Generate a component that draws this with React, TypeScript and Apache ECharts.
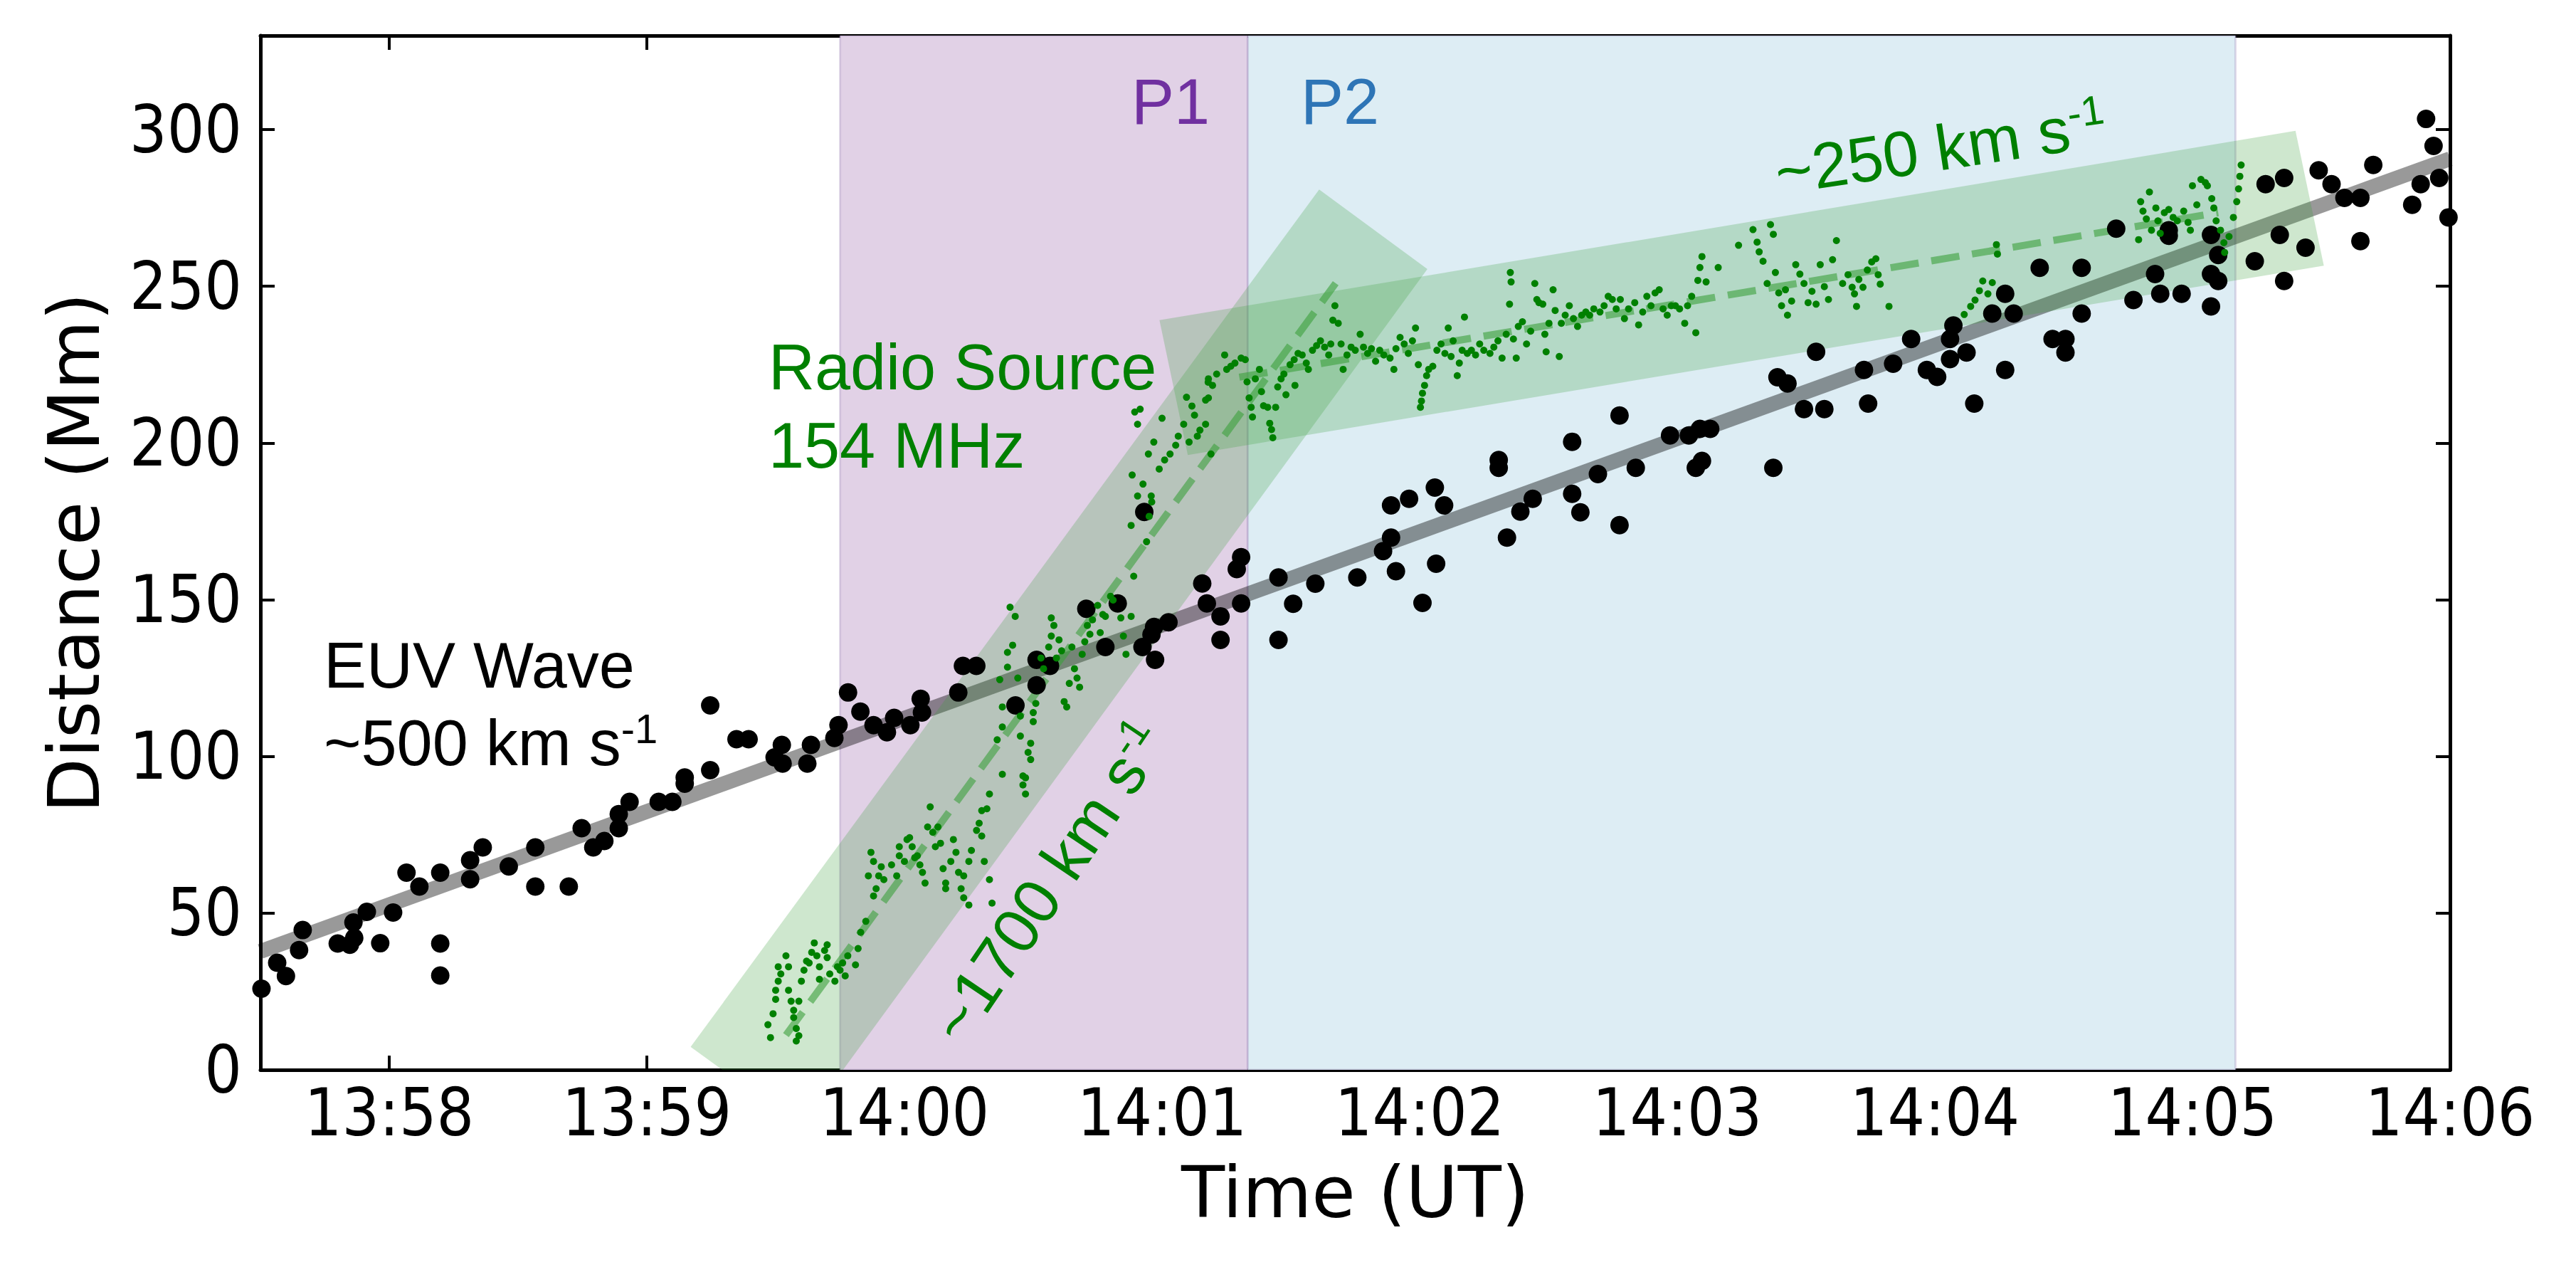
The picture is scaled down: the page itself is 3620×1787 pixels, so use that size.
import React, { useEffect, useRef } from "react";
import * as echarts from "echarts";

// x values are minutes after 13:00 UT, y values are distances in Mm
const X_MIN = 57.5;
const X_MAX = 66;
const Y_MIN = 0;
const Y_MAX = 330;
const xTickValues = [58, 59, 60, 61, 62, 63, 64, 65, 66];
const xTickLabels = ["13:58", "13:59", "14:00", "14:01", "14:02", "14:03", "14:04", "14:05", "14:06"];
const yTickValues = [0, 50, 100, 150, 200, 250, 300];

// shaded periods [start, end]
const periodP1 = [59.75, 61.333];
const periodP2 = [61.333, 65.167];

// EUV wave front measurements
const euvWave = [
  [57.504, 25.9], [57.565, 34.2], [57.599, 29.9], [57.65, 38.2], [57.664, 44.6], [57.8, 40.3], [57.847, 39.9], [57.864, 42.1],
  [57.861, 47.0], [57.913, 50.4], [57.965, 40.4], [58.015, 50.2], [58.067, 62.9], [58.117, 58.5], [58.198, 62.9], [58.198, 40.3],
  [58.198, 30.1], [58.314, 66.9], [58.314, 60.8], [58.363, 71.0], [58.464, 64.9], [58.567, 71.0], [58.567, 58.5], [58.697, 58.5],
  [58.747, 77.1], [58.792, 71.0], [58.835, 73.0], [58.891, 77.1], [58.891, 81.6], [58.933, 85.5], [59.046, 85.5], [59.099, 85.5],
  [59.147, 91.3], [59.147, 93.3], [59.246, 95.6], [59.246, 116.3], [59.348, 105.5], [59.395, 105.5], [59.496, 99.7], [59.524, 103.7],
  [59.527, 97.7], [59.623, 97.7], [59.637, 103.7], [59.728, 105.9], [59.744, 110.0], [59.781, 120.4], [59.829, 114.3], [59.88, 110.0],
  [59.932, 107.7], [59.96, 112.3], [60.023, 110.0], [60.063, 118.4], [60.068, 114.0], [60.209, 120.4], [60.227, 128.9], [60.279, 128.9],
  [60.431, 116.3], [60.513, 130.8], [60.513, 122.7], [60.565, 128.9], [60.706, 147.1], [60.78, 134.9], [60.828, 148.8], [60.931, 178.0],
  [60.924, 134.9], [60.959, 138.9], [60.969, 141.3], [60.973, 130.8], [61.025, 142.8], [61.156, 155.2], [61.174, 148.8], [61.227, 144.7],
  [61.227, 137.2], [61.29, 159.8], [61.307, 163.6], [61.307, 148.8], [61.452, 157.1], [61.452, 137.2], [61.509, 148.7], [61.595, 155.1],
  [61.758, 157.1], [61.858, 165.5], [61.889, 169.8], [61.889, 180.1], [61.908, 159.1], [61.959, 182.2], [62.011, 149.0], [62.059, 185.8],
  [62.064, 161.5], [62.095, 180.1], [62.307, 194.6], [62.307, 192.1], [62.339, 169.8], [62.391, 178.1], [62.439, 182.2], [62.592, 200.4],
  [62.592, 183.8], [62.624, 177.9], [62.692, 190.1], [62.776, 208.8], [62.776, 173.8], [62.839, 192.1], [62.972, 202.4], [63.045, 202.4],
  [63.088, 204.5], [63.128, 204.5], [63.072, 192.1], [63.096, 194.3], [63.373, 192.1], [63.389, 221.0], [63.428, 219.0], [63.492, 210.8],
  [63.539, 229.1], [63.571, 210.8], [63.725, 223.3], [63.741, 212.6], [63.838, 225.3], [63.908, 233.2], [63.969, 223.3], [64.009, 221.1],
  [64.059, 233.2], [64.059, 226.8], [64.072, 237.5], [64.123, 228.9], [64.153, 212.6], [64.223, 241.3], [64.273, 247.6], [64.273, 223.3],
  [64.306, 241.3], [64.407, 255.9], [64.457, 233.2], [64.507, 233.2], [64.507, 228.9], [64.57, 255.9], [64.57, 241.3], [64.704, 268.4],
  [64.771, 245.6], [64.855, 253.9], [64.875, 247.6], [64.908, 267.9], [64.908, 266.1], [64.958, 247.6], [65.072, 266.4], [65.072, 253.9],
  [65.072, 243.6], [65.1, 260.0], [65.1, 251.7], [65.242, 258.0], [65.284, 282.6], [65.339, 266.4], [65.356, 284.6], [65.356, 251.7],
  [65.439, 262.3], [65.49, 287.0], [65.54, 282.6], [65.59, 278.2], [65.652, 278.2], [65.652, 264.4], [65.702, 288.7], [65.853, 276.0],
  [65.886, 282.6], [65.907, 303.4], [65.936, 294.8], [65.958, 284.6], [65.994, 272.0],
];

// radio source 154 MHz positions, early fast phase
const radioEarly = [
  [59.47, 14.4], [59.48, 10.3], [59.49, 17.9], [59.5, 22.5], [59.5, 25.4], [59.51, 28.3], [59.51, 32.9], [59.52, 30.6],
  [59.54, 36.4], [59.55, 32.9], [59.55, 25.4], [59.56, 21.9], [59.57, 19.0], [59.57, 16.7], [59.58, 13.2], [59.58, 9.2],
  [59.59, 10.9], [59.59, 21.9], [59.6, 28.3], [59.61, 31.8], [59.62, 34.7], [59.63, 34.1], [59.64, 37.5], [59.65, 40.5],
  [59.66, 36.4], [59.67, 28.9], [59.67, 32.9], [59.69, 38.1], [59.7, 39.9], [59.7, 35.8], [59.71, 30.6], [59.73, 28.3],
  [59.74, 32.9], [59.75, 31.8], [59.76, 34.1], [59.77, 30.0], [59.78, 36.4], [59.81, 33.5], [59.82, 38.7], [59.83, 43.9],
  [59.85, 47.4],
  [59.86, 61.9], [59.87, 69.4], [59.88, 66.5], [59.88, 55.5], [59.89, 57.8], [59.9, 61.9], [59.91, 64.8], [59.92, 60.7],
  [59.95, 65.4], [59.97, 61.9], [59.98, 68.3], [59.98, 71.2], [60.0, 66.5], [60.01, 73.5], [60.02, 74.1], [60.03, 71.2],
  [60.04, 67.7], [60.05, 68.3], [60.06, 65.4], [60.07, 63.0], [60.08, 59.6], [60.09, 77.5], [60.1, 83.9], [60.11, 75.8],
  [60.12, 71.2], [60.13, 77.5], [60.14, 72.3], [60.15, 64.2], [60.16, 59.6], [60.16, 57.8], [60.18, 66.5], [60.19, 73.5],
  [60.2, 69.4], [60.21, 63.0], [60.22, 57.8], [60.23, 61.9], [60.23, 54.9], [60.25, 52.6], [60.25, 66.5], [60.26, 70.0],
  [60.28, 76.4], [60.29, 78.7], [60.3, 82.7], [60.3, 74.6], [60.31, 66.5], [60.32, 83.3], [60.33, 60.7], [60.34, 53.2],
  [60.33, 88.0],
];

// radio source, steep rise
const radioRise = [
  [60.37, 124.5], [60.38, 115.8], [60.36, 105.3], [60.38, 94.3], [60.38, 109.4], [60.4, 128.5], [60.4, 133.2], [60.41, 147.6],
  [60.42, 135.5], [60.43, 144.7], [60.44, 125.0], [60.45, 112.9], [60.45, 106.5], [60.46, 93.8], [60.46, 90.9], [60.47, 88.0],
  [60.47, 93.2], [60.48, 101.3], [60.49, 99.0], [60.49, 104.2], [60.5, 111.1], [60.5, 114.0], [60.51, 116.9], [60.53, 131.4],
  [60.54, 128.0], [60.56, 134.9], [60.57, 138.4], [60.57, 144.2], [60.58, 141.8], [60.59, 131.4], [60.6, 137.2], [60.61, 133.7],
  [60.62, 117.5], [60.63, 115.8], [60.64, 123.3], [60.65, 134.9], [60.66, 128.0], [60.67, 125.0], [60.68, 122.1], [60.69, 132.6],
  [60.7, 136.6], [60.71, 141.8], [60.72, 139.0], [60.73, 143.6], [60.75, 148.2], [60.76, 139.5], [60.77, 145.3], [60.78, 144.7],
  [60.8, 151.1], [60.81, 149.9], [60.84, 144.2], [60.85, 138.4], [60.86, 132.6], [60.88, 144.7], [60.88, 173.7], [60.89, 157.5],
  [60.94, 168.5], [60.95, 176.6], [60.96, 181.2],
  [60.894, 209.9], [60.905, 206.0], [60.915, 210.8], [60.884, 189.8], [60.905, 183.1], [60.926, 186.9], [60.958, 183.1],
  [60.947, 196.5], [60.968, 200.3], [60.989, 191.7], [61.0, 207.9], [61.01, 194.6], [61.031, 196.5], [61.053, 199.3],
  [61.063, 202.2], [61.084, 206.0], [61.095, 214.6], [61.105, 200.3], [61.116, 211.8], [61.126, 208.9], [61.137, 202.2],
  [61.147, 204.1], [61.169, 213.7], [61.179, 219.4], [61.19, 196.5], [61.169, 206.0],
  [61.18, 220.5], [61.18, 214.4], [61.196, 218.4], [61.212, 222.0], [61.243, 228.1], [61.251, 223.5], [61.267, 224.5],
  [61.283, 225.5], [61.307, 227.1], [61.323, 226.6], [61.33, 219.5], [61.338, 214.4], [61.346, 211.4], [61.351, 208.3],
  [61.362, 220.5], [61.378, 223.5], [61.386, 216.4], [61.394, 211.9], [61.41, 211.4], [61.418, 206.3], [61.425, 204.3],
  [61.43, 201.7], [61.441, 211.4], [61.449, 217.9], [61.462, 220.5], [61.473, 222.0], [61.481, 215.4], [61.497, 225.0],
  [61.513, 226.6], [61.516, 218.4], [61.528, 228.6], [61.544, 228.1], [61.56, 225.5], [61.568, 223.5],
];

// radio source, slow drift phase
const radioLate = [
  [61.584, 229.6], [61.6, 231.1], [61.615, 232.6], [61.631, 230.6], [61.647, 228.1], [61.655, 231.6], [61.663, 239.2], [61.671, 243.8],
  [61.684, 238.2], [61.695, 231.6], [61.703, 223.5], [61.718, 228.1], [61.734, 230.6], [61.75, 229.6], [61.769, 234.7], [61.782, 230.6],
  [61.798, 228.6], [61.813, 230.1], [61.829, 226.1], [61.845, 229.6], [61.861, 228.1], [61.885, 227.1], [61.9, 223.5], [61.908, 230.1],
  [61.924, 233.7], [61.94, 231.6], [61.956, 228.6], [61.972, 232.6], [61.984, 236.7], [61.995, 225.0], [62.003, 211.4], [62.007, 213.4],
  [62.011, 215.9], [62.019, 218.4], [62.027, 221.5], [62.035, 223.5], [62.051, 224.5], [62.067, 229.6], [62.083, 231.6], [62.098, 228.6],
  [62.111, 236.7], [62.122, 227.6], [62.13, 232.6], [62.146, 221.5], [62.154, 225.5], [62.165, 229.6], [62.174, 240.2], [62.185, 228.6],
  [62.201, 229.6], [62.217, 228.1], [62.233, 231.6], [62.249, 229.6], [62.273, 228.6], [62.288, 230.6], [62.304, 232.6], [62.32, 227.1],
  [62.336, 234.7], [62.352, 254.4], [62.355, 251.4], [62.349, 244.3], [62.364, 233.2], [62.375, 227.1], [62.383, 237.2], [62.399, 238.7],
  [62.415, 231.6], [62.431, 235.7], [62.447, 250.9], [62.455, 245.8], [62.463, 244.8], [62.478, 244.3], [62.486, 234.7], [62.491, 229.1],
  [62.502, 238.2], [62.518, 248.9], [62.526, 242.3], [62.542, 227.6], [62.55, 238.2], [62.565, 240.8], [62.581, 243.8], [62.597, 239.7],
  [62.613, 237.2], [62.629, 240.8], [62.645, 241.8], [62.66, 240.8], [62.676, 242.8], [62.7, 241.8], [62.716, 243.8], [62.732, 246.8],
  [62.748, 245.8], [62.763, 242.8], [62.779, 245.8], [62.795, 239.7], [62.811, 242.8], [62.835, 244.8], [62.85, 237.7], [62.866, 241.8],
  [62.882, 246.8], [62.898, 243.8], [62.914, 247.9], [62.93, 248.9], [62.945, 242.8], [62.961, 240.8], [62.977, 243.8], [62.993, 243.8],
  [63.009, 242.8], [63.029, 238.2], [63.04, 243.8], [63.056, 246.8], [63.072, 235.2], [63.08, 251.9], [63.088, 256.0], [63.096, 259.5],
  [63.112, 251.4], [63.159, 256.0], [63.238, 263.1], [63.294, 268.1], [63.31, 264.1], [63.318, 261.0], [63.333, 258.0], [63.349, 250.9],
  [63.362, 269.7], [63.373, 266.6], [63.381, 254.4], [63.394, 247.9], [63.405, 243.8], [63.42, 248.9], [63.428, 240.8], [63.444, 245.3],
  [63.46, 256.9], [63.476, 253.9], [63.492, 250.9], [63.508, 244.8], [63.523, 248.4], [63.539, 244.3], [63.555, 256.9], [63.571, 249.9],
  [63.587, 245.8], [63.603, 258.5], [63.618, 264.6], [63.642, 250.9], [63.663, 253.7], [63.679, 249.7], [63.688, 247.6], [63.696, 243.6],
  [63.705, 252.2], [63.721, 249.7], [63.738, 255.2], [63.755, 257.8], [63.771, 258.8], [63.78, 253.7], [63.788, 250.7], [63.822, 243.6],
  [64.114, 241.0], [64.139, 243.6], [64.156, 245.6], [64.173, 248.6], [64.186, 251.7], [64.206, 247.6], [64.223, 251.2], [64.239, 263.3],
  [64.243, 260.3], [64.791, 264.9], [64.799, 277.0], [64.808, 274.0], [64.821, 271.5], [64.833, 280.1], [64.841, 267.9], [64.858, 275.0],
  [64.866, 270.9], [64.875, 266.9], [64.891, 273.5], [64.908, 274.5], [64.925, 272.0], [64.941, 270.9], [64.966, 274.0], [64.983, 270.4],
  [64.992, 267.9], [65.0, 282.1], [65.017, 276.0], [65.033, 284.1], [65.05, 283.1], [65.058, 282.1], [65.075, 278.0], [65.083, 275.0],
  [65.092, 270.9], [65.109, 267.9], [65.122, 263.9], [65.125, 260.8], [65.142, 265.9], [65.159, 272.0], [65.172, 277.0], [65.179, 281.1],
  [65.184, 285.1], [65.189, 288.7],
];

// linear fits
const euvFit = [[57.5, 37.8], [66, 290.7]];
const radioFastFit = [[59.54, 11.1], [61.674, 251.0]];
const radioSlowFit = [[61.3, 221.0], [65.1, 273.5]];

// uncertainty bands (corners)
const bandFast = [[59.17, 7.3], [61.61, 280.9], [62.03, 255.5], [59.6, -18.2]];
const bandSlow = [[60.99, 239.2], [65.4, 299.6], [65.51, 256.6], [61.1, 196.2]];

const TICK_FONT = "'DejaVu Sans Condensed', 'DejaVu Sans', sans-serif";
const NAME_FONT = "'DejaVu Sans', sans-serif";
const ANNO_FONT = "'Liberation Sans', Arial, sans-serif";

function xLabel(v: number) {
  const i = xTickValues.findIndex((t) => Math.abs(t - v) < 1e-6);
  return i >= 0 ? xTickLabels[i] : "";
}
function yLabel(v: number) {
  return yTickValues.some((t) => Math.abs(t - v) < 1e-6) ? String(v) : "";
}

export default function App() {
  const ref = useRef<HTMLDivElement>(null);
  useEffect(() => {
    document.body.style.margin = "0";
    if (!ref.current) return;
    const chart = echarts.init(ref.current, undefined, { renderer: "svg" });
    const axisLine = { show: true, onZero: false, lineStyle: { color: "#000", width: 5 } };
    const axisTick = { show: true, inside: true, length: 20, lineStyle: { color: "#000", width: 4 } };
    const bands = [bandFast, bandSlow];
    const periods = [periodP1, periodP2];
    const periodColors = ["#e1d1e6", "#ddedf4"];
    const sup = { fontSize: 58, lineHeight: 58, verticalAlign: "top", fontFamily: ANNO_FONT };

    chart.setOption({
      animation: false,
      backgroundColor: "#fff",
      grid: { left: 366, right: 177, top: 50, bottom: 284 },
      xAxis: [
        {
          type: "value", position: "bottom", min: X_MIN, max: X_MAX, splitNumber: 8,
          axisLine, axisTick, splitLine: { show: false },
          axisLabel: { formatter: xLabel, fontSize: 92, fontFamily: TICK_FONT, color: "#000", margin: 14 },
          name: "Time (UT)", nameLocation: "middle", nameGap: 122,
          nameTextStyle: { fontSize: 100, fontFamily: NAME_FONT, color: "#000" },
        },
        {
          type: "value", position: "top", min: X_MIN, max: X_MAX, splitNumber: 8,
          axisLine, axisTick, splitLine: { show: false }, axisLabel: { show: false },
        },
      ],
      yAxis: [
        {
          type: "value", position: "left", min: Y_MIN, max: Y_MAX, interval: 50,
          axisLine, axisTick, splitLine: { show: false },
          axisLabel: { formatter: yLabel, fontSize: 92, fontFamily: TICK_FONT, color: "#000", margin: 26 },
          name: "Distance (Mm)", nameLocation: "middle", nameGap: 212, nameRotate: 90,
          nameTextStyle: { fontSize: 100, fontFamily: NAME_FONT, color: "#000" },
        },
        {
          type: "value", position: "right", min: Y_MIN, max: Y_MAX, interval: 50,
          axisLine, axisTick, splitLine: { show: false }, axisLabel: { show: false },
        },
      ],
      series: [
        {
          type: "custom", z: 1, silent: true, clip: true,
          data: periods.map((p) => [p[0], p[1]]),
          renderItem: (params: any, api: any) => {
            const p0 = api.coord([api.value(0), Y_MAX]);
            const p1 = api.coord([api.value(1), Y_MIN]);
            return {
              type: "rect",
              shape: { x: p0[0], y: p0[1], width: p1[0] - p0[0], height: p1[1] - p0[1] },
              style: { fill: periodColors[params.dataIndex], stroke: "rgba(140,110,170,0.25)", lineWidth: 3 },
            };
          },
        },
        {
          type: "line", z: 3, silent: true, data: euvFit, symbol: "none",
          lineStyle: { color: "rgba(0,0,0,0.4)", width: 21, cap: "butt" },
        },
        {
          type: "custom", z: 4, silent: true, clip: true,
          data: bands.map((b) => b[0]),
          renderItem: (params: any, api: any) => {
            const pts = bands[params.dataIndex].map((c) => api.coord(c));
            const cs = params.coordSys;
            return {
              type: "polygon",
              shape: { points: pts },
              style: { fill: "rgba(60,160,60,0.25)" },
              clipPath: { type: "rect", shape: { x: cs.x, y: cs.y, width: cs.width, height: cs.height } },
            };
          },
        },
        {
          type: "line", z: 5, silent: true, data: radioFastFit, symbol: "none",
          lineStyle: { color: "rgba(60,160,60,0.6)", width: 10, type: [40, 18] },
        },
        {
          type: "line", z: 5, silent: true, data: radioSlowFit, symbol: "none",
          lineStyle: { color: "rgba(60,160,60,0.6)", width: 10, type: [40, 18] },
        },
        {
          type: "scatter", z: 6, silent: true, data: euvWave, symbol: "circle", symbolSize: 26,
          itemStyle: { color: "#000", opacity: 1 },
        },
        {
          type: "scatter", z: 7, silent: true, data: [...radioEarly, ...radioRise, ...radioLate],
          symbol: "circle", symbolSize: 10, itemStyle: { color: "#008000", opacity: 1 },
        },
      ],
      graphic: [
        { type: "text", x: 1590, y: 143, z: 20, style: { text: "P1", fill: "#7030a0", fontSize: 90, fontFamily: ANNO_FONT, align: "left", verticalAlign: "middle" } },
        { type: "text", x: 1828, y: 143, z: 20, style: { text: "P2", fill: "#2e75b6", fontSize: 90, fontFamily: ANNO_FONT, align: "left", verticalAlign: "middle" } },
        { type: "text", x: 1080, y: 516, z: 20, style: { text: "Radio Source", fill: "#008000", fontSize: 90, fontFamily: ANNO_FONT, align: "left", verticalAlign: "middle" } },
        { type: "text", x: 1080, y: 626, z: 20, style: { text: "154 MHz", fill: "#008000", fontSize: 90, fontFamily: ANNO_FONT, align: "left", verticalAlign: "middle" } },
        { type: "text", x: 455, y: 935, z: 20, style: { text: "EUV Wave", fill: "#000", fontSize: 90, fontFamily: ANNO_FONT, align: "left", verticalAlign: "middle" } },
        {
          type: "text", x: 455, y: 1044, z: 20,
          style: { text: "~500 km s{sup|-1}", fill: "#000", fontSize: 90, lineHeight: 100, fontFamily: ANNO_FONT, align: "left", verticalAlign: "middle", rich: { sup: { ...sup, fill: "#000" } } },
        },
        {
          type: "text", x: 2727, y: 208, z: 20, rotation: (8.5 * Math.PI) / 180,
          style: { text: "~250 km s{sup|-1}", fill: "#008000", fontSize: 90, lineHeight: 100, fontFamily: ANNO_FONT, align: "center", verticalAlign: "middle", rich: { sup: { ...sup, fill: "#008000" } } },
        },
        {
          type: "text", x: 1474, y: 1240, z: 20, rotation: (56 * Math.PI) / 180,
          style: { text: "~1700 km s{sup|-1}", fill: "#008000", fontSize: 90, lineHeight: 100, fontFamily: ANNO_FONT, align: "center", verticalAlign: "middle", rich: { sup: { ...sup, fill: "#008000" } } },
        },
      ],
    });
    return () => chart.dispose();
  }, []);
  return <div ref={ref} style={{ width: 3620, height: 1787 }} />;
}
